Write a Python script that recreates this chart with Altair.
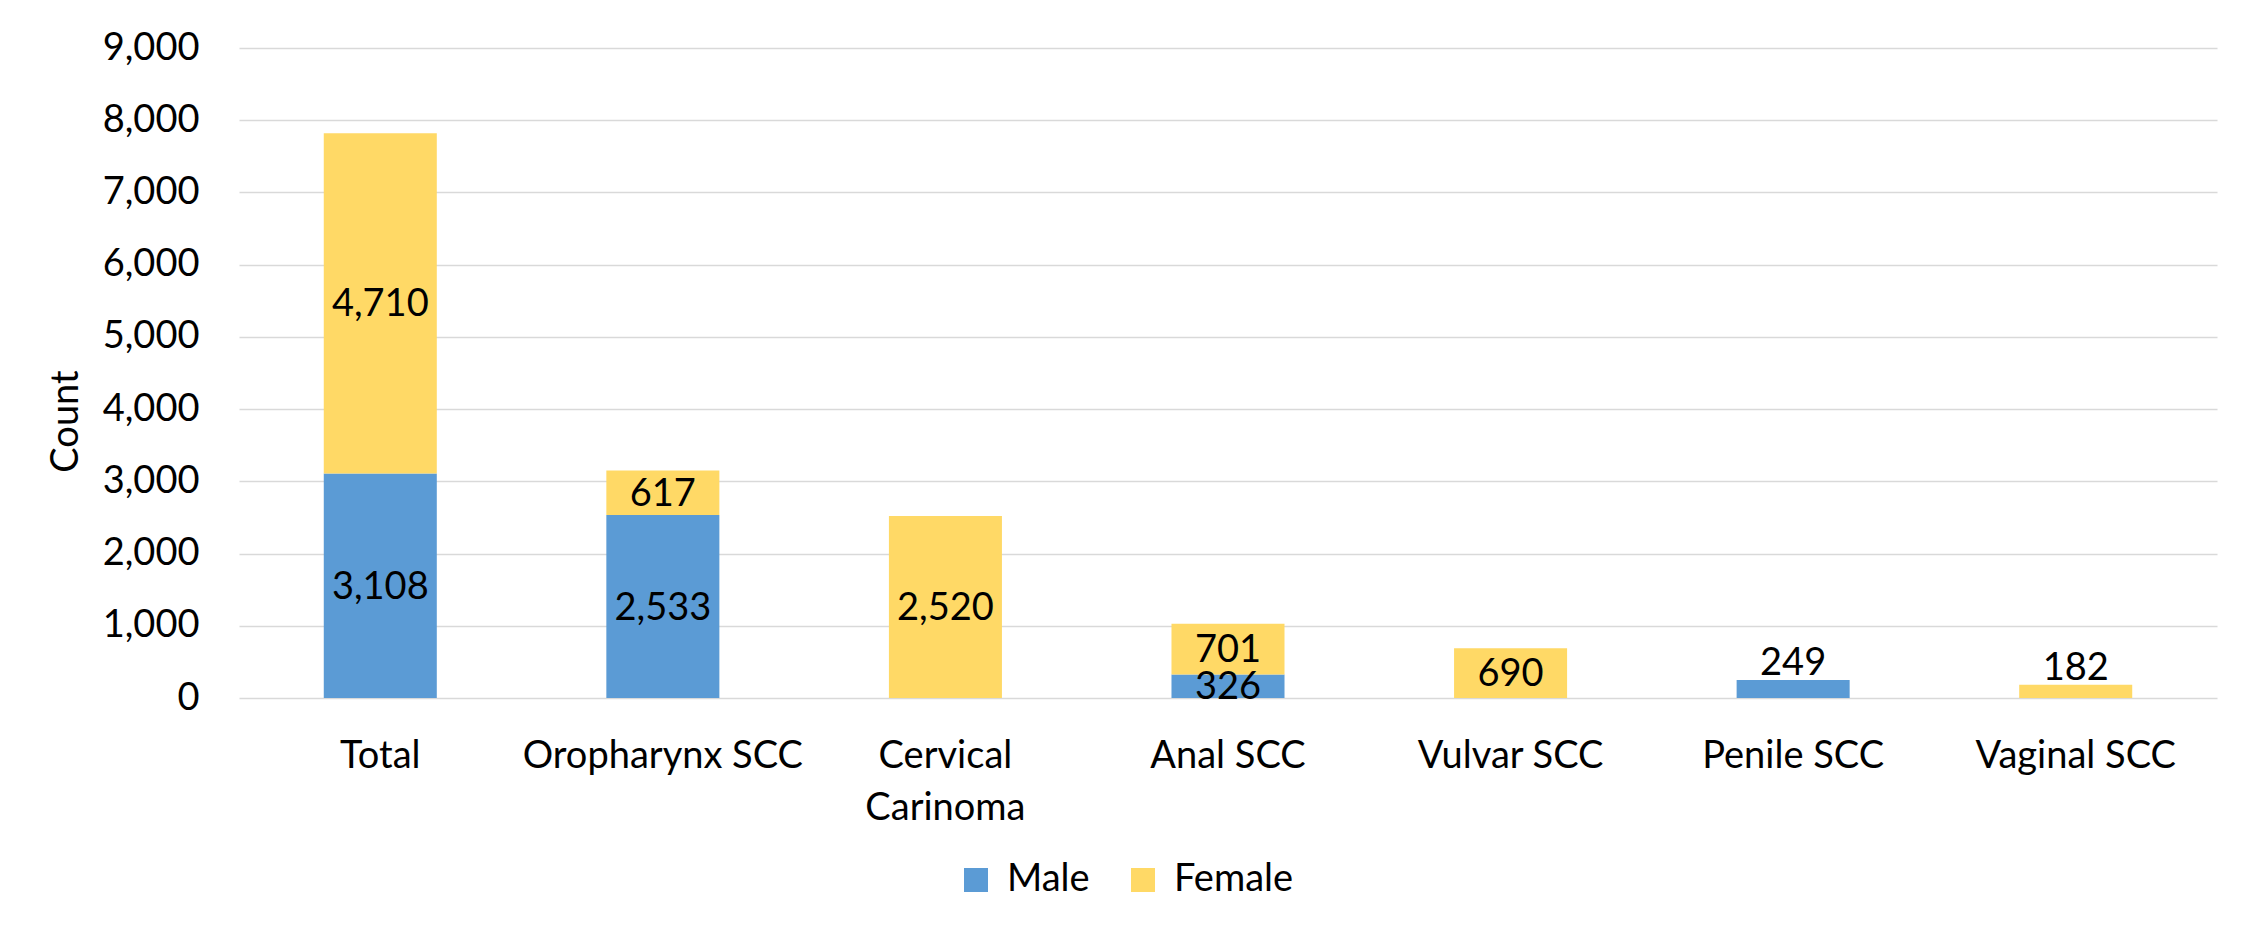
import altair as alt
import pandas as pd

categories = ["Total", "Oropharynx SCC", "Cervical Carinoma", "Anal SCC",
              "Vulvar SCC", "Penile SCC", "Vaginal SCC"]
male = [3108, 2533, 0, 326, 0, 249, 0]
female = [4710, 617, 2520, 701, 690, 0, 182]
series = ["Male", "Female"]
colors = ["#5B9BD5", "#FFD966"]
y_ticks = [0, 1000, 2000, 3000, 4000, 5000, 6000, 7000, 8000, 9000]
labels_above = ["Penile SCC", "Vaginal SCC"]

rows = []
for i, c in enumerate(categories):
    for k, (s, vals) in enumerate(zip(series, [male, female])):
        if vals[i] > 0:
            rows.append({"category": c, "sex": s, "order": k,
                         "count": vals[i], "above": c in labels_above})
df = pd.DataFrame(rows)

FONT = "Lato"
FS = 38

x_enc = alt.X(
    "category:N", sort=categories,
    scale=alt.Scale(paddingInner=0.6, paddingOuter=0.3),
    axis=alt.Axis(title=None, labelAngle=0, domain=False, ticks=False,
                  labelFont=FONT, labelFontSize=FS, labelColor="#000000",
                  labelBaseline="top", labelPadding=39, labelLineHeight=52,
                  labelLimit=400,
                  labelExpr="datum.value == 'Cervical Carinoma' ? ['Cervical', 'Carinoma'] : datum.value"),
)

y_axis = alt.Axis(values=y_ticks, labelExpr="format(datum.value, ',')", title="Count",
                  domain=False, ticks=False,
                  labelFont=FONT, labelFontSize=FS, labelColor="#000000", labelPadding=40,
                  titleFont=FONT, titleFontSize=FS, titleFontWeight="normal",
                  titleColor="#000000", titleAngle=270, titleX=-173, titleY=373,
                  titleAlign="center", titleBaseline="middle",
                  gridColor="#D9D9D9", gridWidth=1.6)
y_scale = alt.Scale(domain=[0, 9000])

base = alt.Chart(df).transform_stack(
    stack="count", groupby=["category"], sort=[alt.SortField("order")], as_=["y0", "y1"]
).transform_calculate(mid="(datum.y0 + datum.y1) / 2")

bars = base.mark_bar().encode(
    x=x_enc,
    y=alt.Y("y0:Q", scale=y_scale, axis=y_axis),
    y2="y1:Q",
    color=alt.Color("sex:N", scale=alt.Scale(domain=series, range=colors),
                    legend=alt.Legend(title=None, orient="none", legendX=718, legendY=813,
                                      direction="horizontal", symbolType="square",
                                      symbolSize=576, symbolStrokeWidth=0,
                                      labelFont=FONT, labelFontSize=FS, labelColor="#000000",
                                      labelOffset=12, columnPadding=34, padding=0,
                                      labelLimit=300)),
)

mid_labels = base.transform_filter("!datum.above").mark_text(
    font=FONT, fontSize=FS, color="#000000", baseline="middle", dy=2
).encode(
    x=x_enc,
    y=alt.Y("mid:Q", scale=y_scale, axis=y_axis),
    text=alt.Text("count:Q", format=","),
)

top_labels = base.transform_filter("datum.above").mark_text(
    font=FONT, fontSize=FS, color="#000000", baseline="alphabetic", dy=-5
).encode(
    x=x_enc,
    y=alt.Y("y1:Q", scale=y_scale, axis=y_axis),
    text=alt.Text("count:Q", format=","),
)

chart = alt.layer(bars, mid_labels, top_labels).properties(
    width=1978, height=650,
    padding={"left": 231, "top": 40, "right": 20, "bottom": 200},
    autosize=alt.AutoSizeParams(type="none"),
    background="#ffffff",
).configure_view(stroke=None)

chart.save("out.html", embed_options={"renderer": "svg", "actions": False})
